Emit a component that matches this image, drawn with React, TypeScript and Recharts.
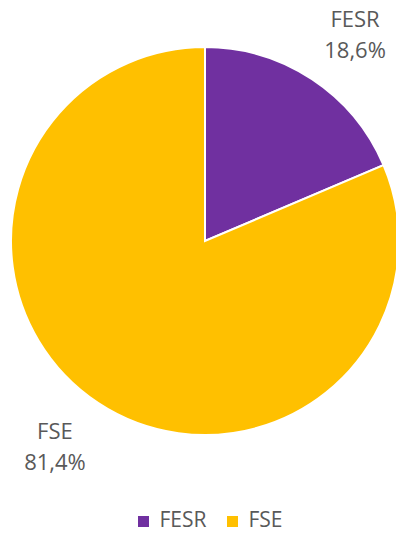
import { PieChart, Pie, Cell, Legend } from "recharts";

const categories = ["FESR", "FSE"];
const shares = [18.6, 81.4];
const colors = ["#7030A0", "#FFC000"];

const data = categories.map((name, i) => ({ name, value: shares[i] }));

const FONT = "'Open Sans', 'Noto Sans', sans-serif";
const RAD = Math.PI / 180;

const renderLabel = (props: any) => {
  const { cx, cy, midAngle, outerRadius, name, value } = props;
  const cos = Math.cos(-midAngle * RAD);
  const sin = Math.sin(-midAngle * RAD);
  const px = cx + (outerRadius + 20) * cos;
  const py = cy + (outerRadius + 20) * sin;
  const x = px + (cos >= 0 ? 32 : -32);
  const y = py + (sin >= 0 ? 28 : -28);
  return (
    <text
      x={x}
      y={y}
      textAnchor="middle"
      fill="#595959"
      fontSize={22}
      fontFamily={FONT}
    >
      <tspan x={x} y={y - 8}>{name}</tspan>
      <tspan x={x} y={y + 23}>{value.toFixed(1).replace(".", ",")}%</tspan>
    </text>
  );
};

export default function App() {
  return (
    <div style={{ position: "absolute", left: 0, top: 0 }}>
      <PieChart width={396} height={534} margin={{ top: 0, right: 0, bottom: 0, left: 0 }}>
        <Pie
          data={data}
          dataKey="value"
          nameKey="name"
          cx={205}
          cy={241}
          outerRadius={194}
          startAngle={90}
          endAngle={-270}
          stroke="#ffffff"
          strokeWidth={2}
          label={renderLabel}
          labelLine={false}
          isAnimationActive={false}
        >
          {data.map((d, i) => (
            <Cell key={d.name} fill={colors[i]} />
          ))}
        </Pie>
        <Legend
          iconType="square"
          iconSize={11}
          wrapperStyle={{
            position: "absolute",
            top: 509,
            left: 0,
            width: 396,
            paddingLeft: 46,
            boxSizing: "border-box",
            fontFamily: FONT,
            fontSize: 21,
            lineHeight: "20px",
          }}
          formatter={(value: string) => (
            <span style={{ color: "#595959", marginLeft: 6, marginRight: 11 }}>{value}</span>
          )}
        />
      </PieChart>
    </div>
  );
}
